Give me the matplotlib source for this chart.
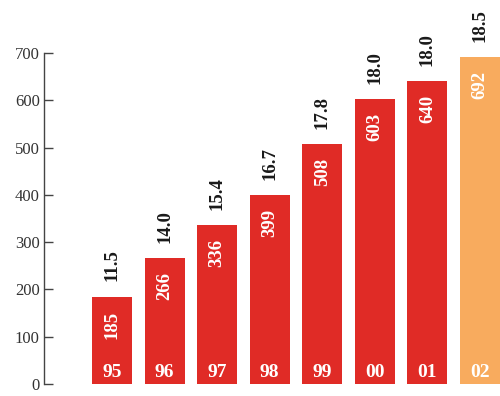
import matplotlib
matplotlib.use("Agg")
import matplotlib.pyplot as plt

years = ["95", "96", "97", "98", "99", "00", "01", "02"]
values = [185, 266, 336, 399, 508, 603, 640, 692]
top_labels = ["11.5", "14.0", "15.4", "16.7", "17.8", "18.0", "18.0", "18.5"]
colors = ["#E02B26"] * 7 + ["#F8AB5E"]
yticks = [0, 100, 200, 300, 400, 500, 600, 700]

plt.rcParams['font.family'] = ['Liberation Serif', 'DejaVu Serif']

fig = plt.figure(figsize=(5, 3.96), dpi=100)
ax = fig.add_axes([44/500, 12/396, 456/500, 331/396])
x = list(range(len(years)))
ax.bar(x, values, width=0.76, color=colors, clip_on=False)
ax.set_xlim(-1.293, 7.38)
ax.set_ylim(0, 700)

for xi, v, yr, tl in zip(x, values, years, top_labels):
    ax.annotate(str(v), (xi, v), xytext=(0, -10), textcoords='offset points',
                rotation=90, ha='center', va='top', color='white',
                fontsize=13.5, fontweight='bold', annotation_clip=False)
    ax.annotate(yr, (xi, 0), xytext=(0, 8), textcoords='offset points',
                ha='center', va='center', color='white',
                fontsize=14, fontweight='bold', annotation_clip=False)
    ax.annotate(tl, (xi, v), xytext=(0, 11), textcoords='offset points',
                rotation=90, ha='center', va='bottom', color='#1a1a1a',
                fontsize=13.5, fontweight='bold', annotation_clip=False)

for s in ['top', 'right', 'bottom']:
    ax.spines[s].set_visible(False)
ax.spines['left'].set_color('#444444')
ax.spines['left'].set_linewidth(1.0)
ax.set_xticks([])
ax.set_yticks(yticks)
ax.set_yticklabels([str(t) for t in yticks])
ax.tick_params(axis='y', direction='in', length=6.5, width=1.0, color='#444444',
               labelsize=12, labelcolor='#333333', pad=3)

fig.savefig("out.png", dpi=100)
